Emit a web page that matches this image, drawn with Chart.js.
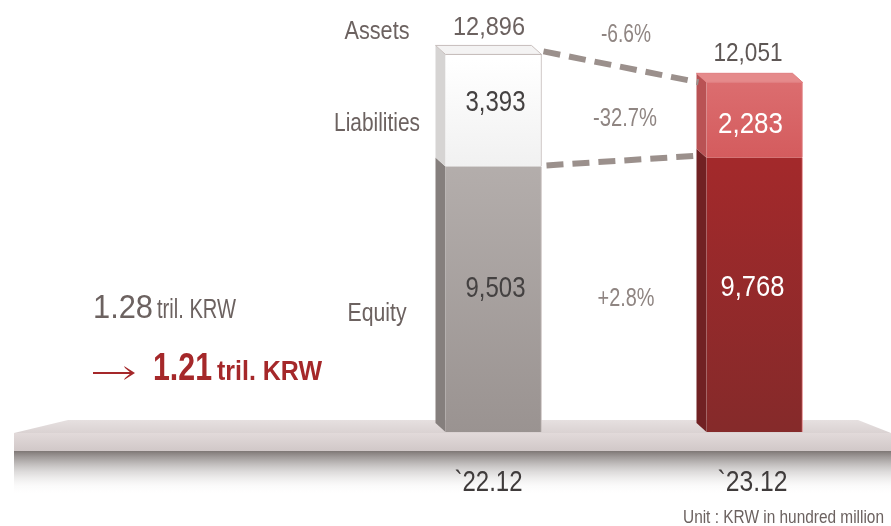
<!DOCTYPE html>
<html>
<head>
<meta charset="utf-8">
<script src="https://cdn.jsdelivr.net/npm/chart.js@4"></script>
<style>
  html, body { margin: 0; padding: 0; background: #fff; }
  #wrap { width: 891px; height: 526px; position: relative; }
</style>
</head>
<body>
<div id="wrap"><canvas id="chart" width="891" height="526"></canvas></div>
<script>
// data
const categories = ["`22.12", "`23.12"];
const equity = [9503, 9768];
const liabilities = [3393, 2283];
const assets = [12896, 12051];
const rowLabels = ["Assets", "Liabilities", "Equity"];
const changes = ["-6.6%", "-32.7%", "+2.8%"];
const totalBefore = "1.28";
const totalAfter = "1.21";

const FONT = '"Liberation Sans", Arial, sans-serif';
const floorY = 432;
const dx = -10, dy = -9;

// colours per bar
const equityTop = ["#b4aeac", "#a3292b"];
const equityBot = ["#9a9391", "#852a2a"];
const equitySide = ["#857f7d", "#712123"];
const liabTop = ["#ffffff", "#de7274"];
const liabBot = ["#f1f1f1", "#d35a5c"];
const liabSide = ["#d6d4d3", "#b95254"];
const liabLid = ["#f4f3f3", "#e58a8b"];
const edge = ["#c7bebc", "#e07e80"];

function grad(ctx, top, bot, c1, c2) {
  const g = ctx.createLinearGradient(0, top, 0, bot);
  g.addColorStop(0, c1);
  g.addColorStop(1, c2);
  return g;
}

// condensed text: squeeze the glyphs to the width used in the original
function narrow(ctx, text, x, y, size, width, align, weight) {
  ctx.font = (weight || "normal") + " " + size + "px " + FONT;
  const s = width / ctx.measureText(text).width;
  ctx.save();
  ctx.translate(x, y);
  ctx.scale(s, 1);
  ctx.textAlign = align || "center";
  ctx.textBaseline = "alphabetic";
  ctx.fillText(text, 0, 0);
  ctx.restore();
}

const scene = {
  id: "scene",
  beforeDatasetsDraw(chart) {
    const ctx = chart.ctx;
    const W = chart.width;
    ctx.save();
    // shadow under the floor
    ctx.fillStyle = grad(ctx, 451, 494, "#7e7775", "rgba(255,255,255,0)");
    ctx.fillRect(14, 451, W - 14, 43);
    // floor front face
    ctx.fillStyle = grad(ctx, 433, 451, "#e2dada", "#d1c8c8");
    ctx.fillRect(14, 433, W - 14, 18);
    // floor top
    ctx.beginPath();
    ctx.moveTo(68, 420);
    ctx.lineTo(858, 420);
    ctx.lineTo(W, 433);
    ctx.lineTo(14, 433);
    ctx.closePath();
    ctx.fillStyle = grad(ctx, 420, 433, "#e6e0e0", "#dad2d2");
    ctx.fill();

    // side faces and lids of the bars
    const metaEq = chart.getDatasetMeta(0);
    const metaLi = chart.getDatasetMeta(1);
    for (let i = 0; i < categories.length; i++) {
      const segs = [[metaEq.data[i], equitySide[i]], [metaLi.data[i], liabSide[i]]];
      segs.forEach(([el, col]) => {
        const left = el.x - el.width / 2;
        const top = el.y;
        const bot = Math.min(el.base, floorY);
        ctx.beginPath();
        ctx.moveTo(left, top);
        ctx.lineTo(left + dx, top + dy);
        ctx.lineTo(left + dx, bot + dy);
        ctx.lineTo(left, bot);
        ctx.closePath();
        ctx.fillStyle = col;
        ctx.fill();
      });
      const el = metaLi.data[i];
      const left = el.x - el.width / 2, right = el.x + el.width / 2, top = el.y;
      ctx.beginPath();
      ctx.moveTo(left, top);
      ctx.lineTo(right, top);
      ctx.lineTo(right + dx, top + dy);
      ctx.lineTo(left + dx, top + dy);
      ctx.closePath();
      ctx.fillStyle = liabLid[i];
      ctx.fill();
      ctx.strokeStyle = edge[i];
      ctx.lineWidth = 1;
      ctx.stroke();
    }
    // keep the bars standing on the floor
    ctx.beginPath();
    ctx.rect(0, 0, W, floorY);
    ctx.clip();
  },
  afterDatasetsDraw(chart) {
    const ctx = chart.ctx;
    ctx.restore();
    const x = chart.scales.x, y = chart.scales.y;
    const metaEq = chart.getDatasetMeta(0);
    const metaLi = chart.getDatasetMeta(1);
    const b1 = metaLi.data[0], b2 = metaLi.data[1];
    const r1 = b1.x + b1.width / 2 + 2;
    const l2 = b2.x - b2.width / 2 + dx;

    ctx.save();
    // dashed connectors
    ctx.strokeStyle = "#9b908c";
    ctx.lineWidth = 6;
    ctx.setLineDash([17, 9]);
    ctx.beginPath();
    ctx.moveTo(r1, y.getPixelForValue(assets[0]) - 3);
    ctx.lineTo(l2 + 2, y.getPixelForValue(assets[1]));
    ctx.stroke();
    ctx.beginPath();
    ctx.moveTo(r1 + 3, y.getPixelForValue(equity[0]) - 1);
    ctx.lineTo(l2 + 2, y.getPixelForValue(equity[1]) - 2);
    ctx.stroke();
    ctx.setLineDash([]);

    // row labels
    ctx.fillStyle = "#6c6260";
    narrow(ctx, rowLabels[0], 377, 39, 25, 65);
    narrow(ctx, rowLabels[1], 377, 131, 25, 86);
    narrow(ctx, rowLabels[2], 377, 321, 25, 59);

    // totals
    ctx.fillStyle = "#6c6260";
    narrow(ctx, assets[0].toLocaleString("en-US"), 489, 35, 25, 72);
    ctx.fillStyle = "#5e5755";
    narrow(ctx, assets[1].toLocaleString("en-US"), 748, 61, 25, 69);

    // segment values
    ctx.fillStyle = "#444141";
    narrow(ctx, liabilities[0].toLocaleString("en-US"), b1.x + 2, 111, 30, 60);
    narrow(ctx, equity[0].toLocaleString("en-US"), b1.x + 2, 297, 30, 60);
    ctx.fillStyle = "#ffffff";
    narrow(ctx, liabilities[1].toLocaleString("en-US"), b2.x - 4, 133, 30, 65);
    narrow(ctx, equity[1].toLocaleString("en-US"), b2.x - 2, 296, 30, 64);

    // changes
    ctx.fillStyle = "#8f8582";
    narrow(ctx, changes[0], 626, 42, 25, 50);
    narrow(ctx, changes[1], 625, 126, 25, 64);
    narrow(ctx, changes[2], 626, 306, 25, 57);

    // category labels
    ctx.fillStyle = "#3f3b3b";
    narrow(ctx, categories[0], x.getPixelForValue(0) - 5, 491, 30, 68);
    narrow(ctx, categories[1], x.getPixelForValue(1) - 2, 491, 30, 70);

    // unit
    ctx.fillStyle = "#6c6260";
    narrow(ctx, "Unit : KRW in hundred million", 884, 523, 19, 201, "right");

    // left summary
    ctx.fillStyle = "#6c6260";
    narrow(ctx, totalBefore, 93, 318, 34, 60, "left");
    narrow(ctx, "tril. KRW", 157, 318, 27, 79, "left");

    ctx.fillStyle = "#a5282a";
    ctx.fillRect(93, 372, 40, 2);
    ctx.beginPath();
    ctx.moveTo(135, 373);
    ctx.lineTo(124, 366);
    ctx.lineTo(125, 368);
    ctx.lineTo(131, 373);
    ctx.lineTo(125, 378);
    ctx.lineTo(124, 380);
    ctx.closePath();
    ctx.fill();
    narrow(ctx, totalAfter, 153, 380, 38, 59, "left", "bold");
    narrow(ctx, "tril. KRW", 217, 380, 27, 105, "left", "bold");
    ctx.restore();
  }
};

new Chart(document.getElementById("chart"), {
  type: "bar",
  data: {
    labels: categories,
    datasets: [
      {
        label: "Equity",
        data: equity,
        backgroundColor: (c) => {
          const a = c.chart.chartArea;
          if (!a) return equityTop[c.dataIndex];
          return grad(c.chart.ctx, 160, floorY, equityTop[c.dataIndex], equityBot[c.dataIndex]);
        },
        borderColor: (c) => edge[c.dataIndex],
        borderWidth: { right: 1, top: 0, left: 0, bottom: 0 },
        borderSkipped: false
      },
      {
        label: "Liabilities",
        data: liabilities,
        backgroundColor: (c) => {
          const a = c.chart.chartArea;
          if (!a) return liabTop[c.dataIndex];
          return grad(c.chart.ctx, 60, 165, liabTop[c.dataIndex], liabBot[c.dataIndex]);
        },
        borderColor: (c) => edge[c.dataIndex],
        borderWidth: { right: 1, top: 1, left: 0, bottom: 0 },
        borderSkipped: false
      }
    ]
  },
  options: {
    responsive: false,
    animation: false,
    layout: { padding: { top: 51, bottom: 46, left: 363, right: 6 } },
    datasets: { bar: { barThickness: 96 } },
    scales: {
      x: { display: false, stacked: true },
      y: { display: false, stacked: true, min: 0, max: 13000 }
    },
    plugins: {
      legend: { display: false },
      tooltip: { enabled: false }
    }
  },
  plugins: [scene]
});
</script>
</body>
</html>
